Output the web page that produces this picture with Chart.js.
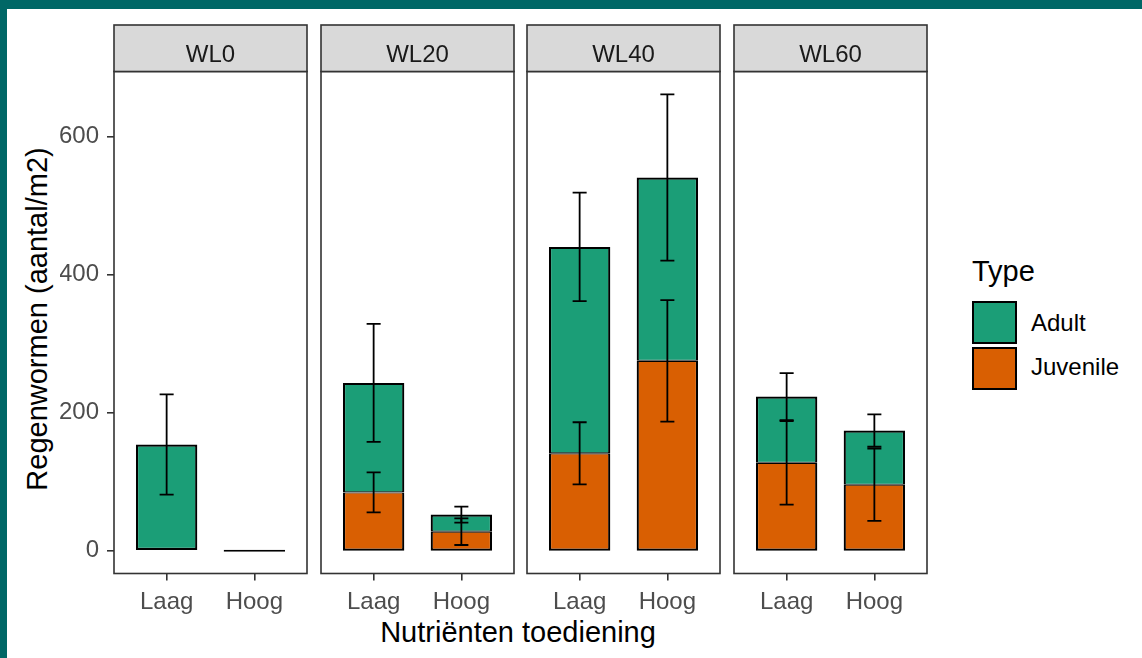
<!DOCTYPE html>
<html lang="nl">
<head>
<meta charset="UTF-8">
<title>Regenwormen per waterniveau</title>
<script src="https://cdn.jsdelivr.net/npm/chart.js"></script>
<style>
    html, body {
        margin: 0;
        padding: 0;
    }
    body {
        position: relative;
        width: 1142px;
        height: 658px;
        overflow: hidden;
        background: #ffffff;
        font-family: 'Liberation Sans', Arial, sans-serif;
    }
    .frame-top { position: absolute; left: 0; top: 0; width: 1142px; height: 9px; background: #006766; }
    .frame-left { position: absolute; left: 0; top: 0; width: 7px; height: 658px; background: #006766; }
    .panel { position: absolute; }
    .axis-title {
        position: absolute;
        font-size: 29px;
        line-height: 29px;
        color: #000000;
        white-space: nowrap;
    }
    #x-title { left: 518px; top: 618px; transform: translateX(-50%); }
    #y-title { left: 37px; top: 319px; transform: translate(-50%, -50%) rotate(-90deg); }
    #legend-title { left: 972px; top: 257px; }
    .key {
        position: absolute;
        left: 972px;
        width: 45px;
        height: 43px;
        box-sizing: border-box;
        border: 2px solid #000000;
    }
    .key-label {
        position: absolute;
        left: 1031px;
        font-size: 24px;
        line-height: 24px;
        color: #000000;
        white-space: nowrap;
    }
</style>
</head>
<body>
<div class="frame-top"></div>
<div class="frame-left"></div>

<div class="axis-title" id="y-title">Regenwormen (aantal/m2)</div>
<div class="axis-title" id="x-title">Nutriënten toediening</div>
<div class="axis-title" id="legend-title">Type</div>

<script>
    // Gegevens per waterniveau (facet) en nutriëntenniveau
    const facetLabels = ['WL0', 'WL20', 'WL40', 'WL60'];
    const treatments = ['Laag', 'Hoog'];
    const adultMean = [[153.8, 0], [158.6, 24.8], [299, 265.5], [95.9, 78.5]];
    const adultSE = [[72.5, null], [85.5, 11.6], [78.5, 120.5], [34, 23.5]];
    const juvenileMean = [[null, null], [84.4, 27.5], [141, 275], [127.3, 95.5]];
    const juvenileSE = [[null, null], [28.9, 19.3], [45, 88], [60.5, 52.3]];
    const yTicks = [0, 200, 400, 600];

    const typeNames = ['Adult', 'Juvenile'];
    const typeColors = ['#1B9E77', '#D95F02'];

    // y-bereik zoals ggplot: 5% uitbreiding rond de data
    let dataMax = 0;
    facetLabels.forEach((f, p) => {
        treatments.forEach((t, j) => {
            const juv = juvenileMean[p][j] || 0;
            const jTop = juv + (juvenileSE[p][j] || 0);
            const aTop = juv + adultMean[p][j] + (adultSE[p][j] || 0);
            dataMax = Math.max(dataMax, jTop, aTop);
        });
    });
    const yMin = -dataMax * 0.05;
    const yMax = dataMax * 1.05;

    // layout
    const PANEL_TOP = 71, PANEL_BOTTOM = 573, PANEL_W = 193, STRIP_H = 46.5;
    const panelLefts = [114, 321, 527, 734];
    const Y_AXIS_W = 54, X_AXIS_H = 50, PAD = 3;
    const ERR_HALF = 0.08;
    const BAR_LINE = 2.2;
    const FONT = "'Liberation Sans', Arial, sans-serif";
    const LINE = '#333333';

    // legenda
    typeNames.forEach((name, i) => {
        const key = document.createElement('div');
        key.className = 'key';
        key.style.top = (301 + i * 46) + 'px';
        key.style.background = typeColors[i];
        document.body.appendChild(key);
        const lab = document.createElement('div');
        lab.className = 'key-label';
        lab.style.top = (311 + i * 44) + 'px';
        lab.textContent = name;
        document.body.appendChild(lab);
    });

    function facetPlugin(label) {
        return {
            id: 'facet',
            afterDatasetsDraw(chart) {
                // foutbalken
                const ctx = chart.ctx, xs = chart.scales.x, ys = chart.scales.y;
                ctx.save();
                ctx.strokeStyle = '#000000';
                ctx.lineWidth = 1.8;
                chart.data.datasets.forEach((ds, d) => {
                    ds.data.forEach((pt, j) => {
                        const se = ds.se[j];
                        if (se == null) return;
                        let top = pt.y;
                        for (let k = 0; k < d; k++) top += chart.data.datasets[k].data[j].y || 0;
                        const x = xs.getPixelForValue(pt.x);
                        const hw = xs.getPixelForValue(pt.x + ERR_HALF) - x;
                        const y1 = ys.getPixelForValue(top - se);
                        const y2 = ys.getPixelForValue(top + se);
                        ctx.beginPath();
                        ctx.moveTo(x, y1); ctx.lineTo(x, y2);
                        ctx.moveTo(x - hw, y1); ctx.lineTo(x + hw, y1);
                        ctx.moveTo(x - hw, y2); ctx.lineTo(x + hw, y2);
                        ctx.stroke();
                    });
                });
                ctx.restore();
            },
            afterDraw(chart) {
                const ctx = chart.ctx, a = chart.chartArea;
                ctx.save();
                ctx.lineWidth = 1.6;
                ctx.strokeStyle = LINE;
                ctx.strokeRect(a.left, a.top, a.right - a.left, a.bottom - a.top);
                // strip
                ctx.fillStyle = '#D9D9D9';
                ctx.fillRect(a.left, a.top - STRIP_H, a.right - a.left, STRIP_H);
                ctx.strokeRect(a.left, a.top - STRIP_H, a.right - a.left, STRIP_H);
                ctx.fillStyle = '#1A1A1A';
                ctx.font = '24px ' + FONT;
                ctx.textAlign = 'center';
                ctx.textBaseline = 'alphabetic';
                ctx.fillText(label, (a.left + a.right) / 2, a.top - 10);
                ctx.restore();
            }
        };
    }

    facetLabels.forEach((facet, p) => {
        const first = p === 0;
        const leftExtra = PAD + (first ? Y_AXIS_W : 0);
        const top = PANEL_TOP - STRIP_H - PAD;
        const box = document.createElement('div');
        box.className = 'panel';
        box.style.left = (panelLefts[p] - leftExtra) + 'px';
        box.style.top = top + 'px';
        box.style.width = (leftExtra + PANEL_W + PAD) + 'px';
        box.style.height = (PANEL_BOTTOM - top + X_AXIS_H) + 'px';
        const canvas = document.createElement('canvas');
        box.appendChild(canvas);
        document.body.appendChild(box);

        const barStyle = {
            stack: 'type',
            borderColor: '#000000',
            borderSkipped: false,
            minBarLength: 2,
            categoryPercentage: 0.7,
            barPercentage: 1.0
        };

        // gedeelde grens tussen segmenten half zo dik, zodat die als één lijn oogt
        const juvBorder = c => ({ top: BAR_LINE / 2, left: BAR_LINE, right: BAR_LINE, bottom: BAR_LINE });
        const adultBorder = c => ({
            top: BAR_LINE, left: BAR_LINE, right: BAR_LINE,
            bottom: juvenileMean[p][c.dataIndex] ? BAR_LINE / 2 : BAR_LINE
        });

        new Chart(canvas, {
            type: 'bar',
            data: {
                datasets: [
                    Object.assign({
                        label: typeNames[1],
                        data: treatments.map((t, j) => ({ x: j + 1, y: juvenileMean[p][j] })),
                        se: juvenileSE[p],
                        backgroundColor: typeColors[1],
                        borderWidth: juvBorder
                    }, barStyle),
                    Object.assign({
                        label: typeNames[0],
                        data: treatments.map((t, j) => ({ x: j + 1, y: adultMean[p][j] })),
                        se: adultSE[p],
                        backgroundColor: typeColors[0],
                        borderWidth: adultBorder
                    }, barStyle)
                ]
            },
            options: {
                responsive: true,
                maintainAspectRatio: false,
                animation: false,
                layout: { padding: { top: STRIP_H + PAD, left: PAD, right: PAD, bottom: 0 } },
                plugins: {
                    legend: { display: false },
                    tooltip: { enabled: false }
                },
                scales: {
                    x: {
                        type: 'linear',
                        min: 0.4,
                        max: 2.6,
                        offset: false,
                        afterBuildTicks: s => { s.ticks = treatments.map((t, j) => ({ value: j + 1 })); },
                        afterFit: s => { s.height = X_AXIS_H; },
                        ticks: {
                            callback: v => treatments[v - 1],
                            color: '#4D4D4D',
                            font: { family: FONT, size: 24 },
                            padding: 7,
                            maxRotation: 0,
                            autoSkip: false
                        },
                        grid: { offset: false, drawOnChartArea: false, tickLength: 7, color: LINE, tickColor: LINE, lineWidth: 1.6 },
                        border: { display: false }
                    },
                    y: {
                        display: first,
                        min: yMin,
                        max: yMax,
                        stacked: true,
                        afterBuildTicks: s => { s.ticks = yTicks.map(v => ({ value: v })); },
                        afterFit: s => { s.width = first ? Y_AXIS_W : 0; },
                        ticks: {
                            callback: v => String(v),
                            color: '#4D4D4D',
                            font: { family: FONT, size: 24 },
                            padding: 8
                        },
                        grid: { drawOnChartArea: false, tickLength: 7, color: LINE, tickColor: LINE, lineWidth: 1.6 },
                        border: { display: false }
                    }
                }
            },
            plugins: [facetPlugin(facet)]
        });
    });
</script>
</body>
</html>
